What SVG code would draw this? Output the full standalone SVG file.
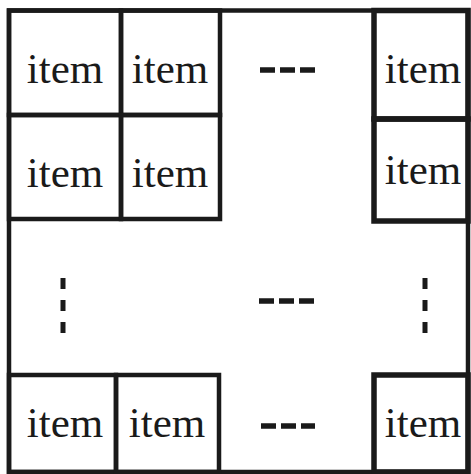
<svg xmlns="http://www.w3.org/2000/svg" width="471" height="474" viewBox="0 0 471 474">
<style>
.cell{fill:none;stroke:#1a1a1a;stroke-width:4.5}
.thick{fill:none;stroke:#1a1a1a;stroke-width:5.5}
.frame{fill:#fff;stroke:#1a1a1a;stroke-width:4.5}
.t{font-family:"Liberation Serif","Times New Roman",serif;font-size:43px;fill:#1a1a1a;text-anchor:middle}
.hd{stroke:#1a1a1a;stroke-width:5.5;stroke-dasharray:15 5}
.vd{stroke:#1a1a1a;stroke-width:5;stroke-dasharray:11 11}
</style>
<rect width="471" height="474" fill="#fff"/>
<g id="frame"><rect class="frame" x="9" y="10.5" width="459" height="461.5"/></g>
<g id="item-r1c1"><rect class="cell" x="9" y="10.5" width="112" height="104.5"/><text class="t" x="65" y="83">item</text></g>
<g id="item-r1c2"><rect class="cell" x="121" y="10.5" width="99" height="104.5"/><text class="t" x="170" y="83">item</text></g>
<g id="item-r2c1"><rect class="cell" x="9" y="115" width="112" height="104"/><text class="t" x="65" y="187">item</text></g>
<g id="item-r2c2"><rect class="cell" x="121" y="115" width="99" height="104"/><text class="t" x="170" y="187">item</text></g>
<g id="item-r1cn"><rect class="thick" x="374" y="10.5" width="94" height="108.5"/><text class="t" x="423" y="83">item</text></g>
<g id="item-r2cn"><rect class="thick" x="374" y="119" width="94" height="102"/><text class="t" x="423" y="184">item</text></g>
<g id="item-rnc1"><rect class="cell" x="9" y="375" width="107" height="97"/><text class="t" x="65" y="437">item</text></g>
<g id="item-rnc2"><rect class="cell" x="116" y="375" width="103" height="97"/><text class="t" x="167" y="437">item</text></g>
<g id="item-rncn"><rect class="thick" x="374" y="375" width="94" height="97"/><text class="t" x="423" y="437">item</text></g>
<g id="ellipses">
<line class="hd" x1="260" y1="70" x2="315" y2="70"/>
<line class="hd" x1="259" y1="301" x2="315" y2="301"/>
<line class="hd" x1="261" y1="426" x2="315" y2="426"/>
<line class="vd" x1="63" y1="278" x2="63" y2="333"/>
<line class="vd" x1="425" y1="278" x2="425" y2="333"/>
</g>
</svg>
